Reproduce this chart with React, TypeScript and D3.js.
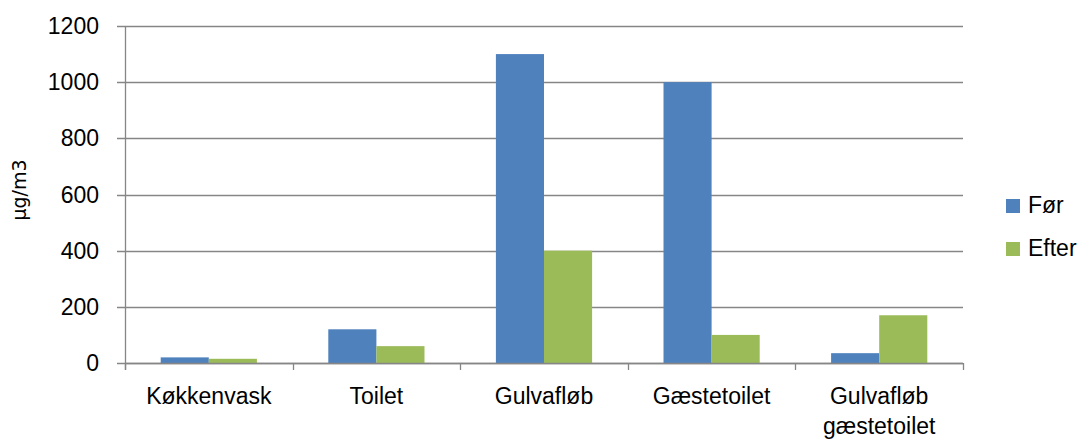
import React from "react";
import * as d3 from "d3";

// Sample locations and measured concentrations (µg/m3) before and after
const categories: string[][] = [
  ["Køkkenvask"],
  ["Toilet"],
  ["Gulvafløb"],
  ["Gæstetoilet"],
  ["Gulvafløb", "gæstetoilet"],
];
const beforeValues = [20, 120, 1100, 1000, 35];
const afterValues = [15, 60, 400, 100, 170];
const seriesNames = ["Før", "Efter"];
const seriesColors = ["#4F81BD", "#9BBB59"];
const yTicks = [0, 200, 400, 600, 800, 1000, 1200];
const yTitle = "µg/m3";

const W = 1080;
const H = 441;
const margin = { left: 125, right: 117, top: 26, bottom: 78 };
const FONT = "'Liberation Sans', Arial, sans-serif";

export default function App() {
  const x0 = margin.left;
  const x1 = W - margin.right;
  const yBottom = H - margin.bottom;

  const x = d3
    .scaleBand<number>()
    .domain(d3.range(categories.length))
    .range([x0, x1])
    .paddingInner(0)
    .paddingOuter(0);
  const y = d3.scaleLinear().domain([0, 1200]).range([yBottom, margin.top]);

  const band = x.bandwidth();
  const barW = band * 0.287;
  const groupOffset = (band - barW * 2) / 2;
  const series = [beforeValues, afterValues];

  return (
    <svg
      width={W}
      height={H}
      style={{ position: "absolute", left: 0, top: 0, background: "#fff" }}
      fontFamily={FONT}
    >
      {/* horizontal gridlines and y tick labels */}
      {yTicks.map((t) => (
        <g key={t}>
          <line
            x1={x0 - 8}
            x2={x1}
            y1={Math.round(y(t)) + 0.5}
            y2={Math.round(y(t)) + 0.5}
            stroke="#868686"
            strokeWidth={1.3}
          />
          <text
            x={99}
            y={y(t) + 8}
            textAnchor="end"
            fontSize={23}
            fill="#000"
          >
            {t}
          </text>
        </g>
      ))}

      {/* bars */}
      {series.map((vals, si) =>
        vals.map((v, i) => (
          <rect
            key={`${si}-${i}`}
            x={(x(i) as number) + groupOffset + si * barW}
            y={y(v)}
            width={barW}
            height={yBottom - y(v)}
            fill={seriesColors[si]}
          />
        ))
      )}

      {/* y axis line */}
      <line
        x1={x0 + 0.5}
        x2={x0 + 0.5}
        y1={margin.top}
        y2={yBottom + 7}
        stroke="#868686"
        strokeWidth={1.3}
      />
      {/* x axis line and category ticks */}
      <line
        x1={x0}
        x2={x1}
        y1={yBottom + 0.5}
        y2={yBottom + 0.5}
        stroke="#868686"
        strokeWidth={1.3}
      />
      {d3.range(categories.length + 1).map((i) => {
        const xx = Math.round(x0 + i * band) + 0.5;
        return (
          <line
            key={i}
            x1={xx}
            x2={xx}
            y1={yBottom}
            y2={yBottom + 7}
            stroke="#868686"
            strokeWidth={1.3}
          />
        );
      })}

      {/* category labels */}
      {categories.map((lines, i) => (
        <text
          key={i}
          x={(x(i) as number) + band / 2}
          y={404}
          textAnchor="middle"
          fontSize={23}
          fill="#000"
        >
          {lines.map((l, j) => (
            <tspan key={j} x={(x(i) as number) + band / 2} dy={j === 0 ? 0 : 30}>
              {l}
            </tspan>
          ))}
        </text>
      ))}

      {/* y axis title */}
      <text
        transform={`translate(26,190) rotate(-90)`}
        textAnchor="middle"
        fontSize={19}
        fontFamily="'DejaVu Sans', sans-serif"
        fill="#000"
      >
        {yTitle}
      </text>

      {/* legend */}
      {seriesNames.map((name, i) => (
        <g key={name} transform={`translate(1006,${199 + i * 43})`}>
          <rect width={14} height={14} fill={seriesColors[i]} />
          <text x={22} y={14} fontSize={23} fill="#000">
            {name}
          </text>
        </g>
      ))}
    </svg>
  );
}
